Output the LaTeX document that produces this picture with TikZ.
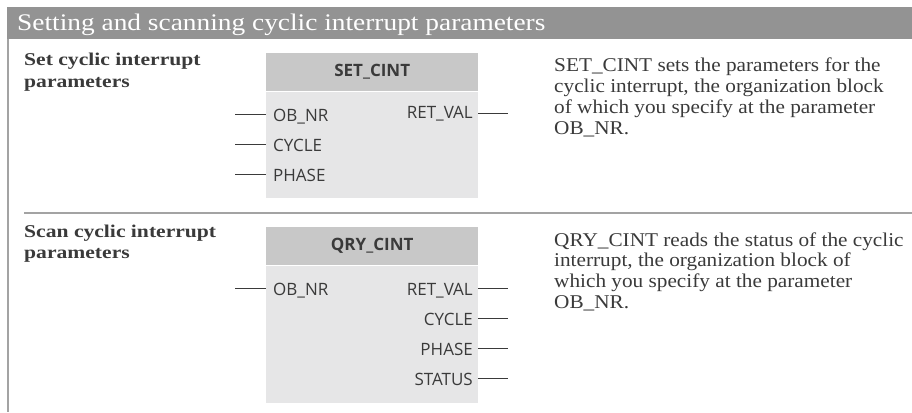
\documentclass[tikz,border=0pt]{standalone}
\usepackage{fontspec}
\setmainfont{Liberation Serif}
\newfontfamily\titlefont[FakeStretch=1.15]{Liberation Serif}
\newfontfamily\descfont[FakeStretch=1.09]{Liberation Serif}
\newfontfamily\headfont[FakeStretch=1.2]{Liberation Serif}
\newfontfamily\pinfont{Open Sans}
\usetikzlibrary{positioning}

\definecolor{barGray}{HTML}{939393}
\definecolor{headGray}{HTML}{C8C8C8}
\definecolor{bodyGray}{HTML}{E6E6E7}
\definecolor{inkGray}{HTML}{3A3A3A}
\definecolor{ruleGray}{HTML}{A3A3A3}

\tikzset{
  blockhead/.style={fill=headGray, minimum width=212pt, minimum height=38pt,
    inner sep=0pt, anchor=north west, text height=12pt, text depth=4pt,
    text=inkGray, font=\pinfont\bfseries\fontsize{17}{20}\selectfont},
  blockbody/.style={fill=bodyGray, minimum width=212pt, inner sep=0pt,
    anchor=north west},
  pinlabel/.style={inner sep=0pt, text=inkGray,
    font=\pinfont\fontsize{17}{20}\selectfont},
  wire/.style={draw=inkGray, line width=1pt},
  % base anchor of a multi-line node = baseline of its last line
  sectionlabel/.style={inner sep=0pt, anchor=base west, align=left, text=inkGray,
    font=\headfont\bfseries\fontsize{18}{21}\selectfont},
  desc/.style={inner sep=0pt, anchor=base west, align=left, text=inkGray,
    font=\descfont\fontsize{19.5}{20.9}\selectfont}
}

\begin{document}
\begin{tikzpicture}[x=1pt, y=-1pt]
  \useasboundingbox (0,0) rectangle (912,412);

  % kopfzeile
  \fill[barGray] (7,7) rectangle (912,39);
  \node[inner sep=0pt, anchor=base west, text=white,
    font=\titlefont\fontsize{23.8}{26}\selectfont] (title) at (17,30.5)
    {Setting and scanning cyclic interrupt parameters};
  \draw[ruleGray, line width=1.2pt] (8,39) -- (8,412);
  \draw[ruleGray, line width=1.2pt] (24,213) -- (912,213);

  % SET_CINT
  \node[sectionlabel] (setlabel) at (24,87) {Set cyclic interrupt\\parameters};
  \node[blockhead] (sethead) at (266,53) {SET\_CINT};
  \node[blockbody, minimum height=106pt] (setbody) at (sethead.south west) {};
  \foreach \pin/\y [count=\i] in {OB\_NR/114, CYCLE/144, PHASE/174}{
    \node[pinlabel, anchor=base west] (setin\i) at (273,\y+7) {\pin};
    \coordinate (setinend\i) at (235,\y);
    \draw[wire] (setinend\i) -- (setinend\i -| setbody.west);
  }
  \node[pinlabel, anchor=base east] (setout1) at (473,118) {RET\_VAL};
  \coordinate (setoutend1) at (508,113);
  \draw[wire] (setoutend1 -| setbody.east) -- (setoutend1);
  \node[desc] (setdesc) at (554,134.2)
    {SET\_CINT sets the parameters for the\\cyclic interrupt, the organization block\\of which you specify at the parameter\\OB\_NR.};

  % QRY_CINT
  \node[sectionlabel] (qrylabel) at (24,258.5) {Scan cyclic interrupt\\parameters};
  \node[blockhead] (qryhead) at (266,227) {QRY\_CINT};
  \node[blockbody, minimum height=137pt] (qrybody) at (qryhead.south west) {};
  \node[pinlabel, anchor=base west] (qryin1) at (273,295) {OB\_NR};
  \coordinate (qryinend1) at (235,288);
  \draw[wire] (qryinend1) -- (qryinend1 -| qrybody.west);
  \foreach \pin/\y [count=\i] in {RET\_VAL/288, CYCLE/318, PHASE/348, STATUS/378}{
    \node[pinlabel, anchor=base east] (qryout\i) at (473,\y+7) {\pin};
    \coordinate (qryoutend\i) at (508,\y);
    \draw[wire] (qryoutend\i -| qrybody.east) -- (qryoutend\i);
  }
  \node[desc] (qrydesc) at (554,308.7)
    {QRY\_CINT reads the status of the cyclic\\interrupt, the organization block of\\which you specify at the parameter\\OB\_NR.};
\end{tikzpicture}
\end{document}
